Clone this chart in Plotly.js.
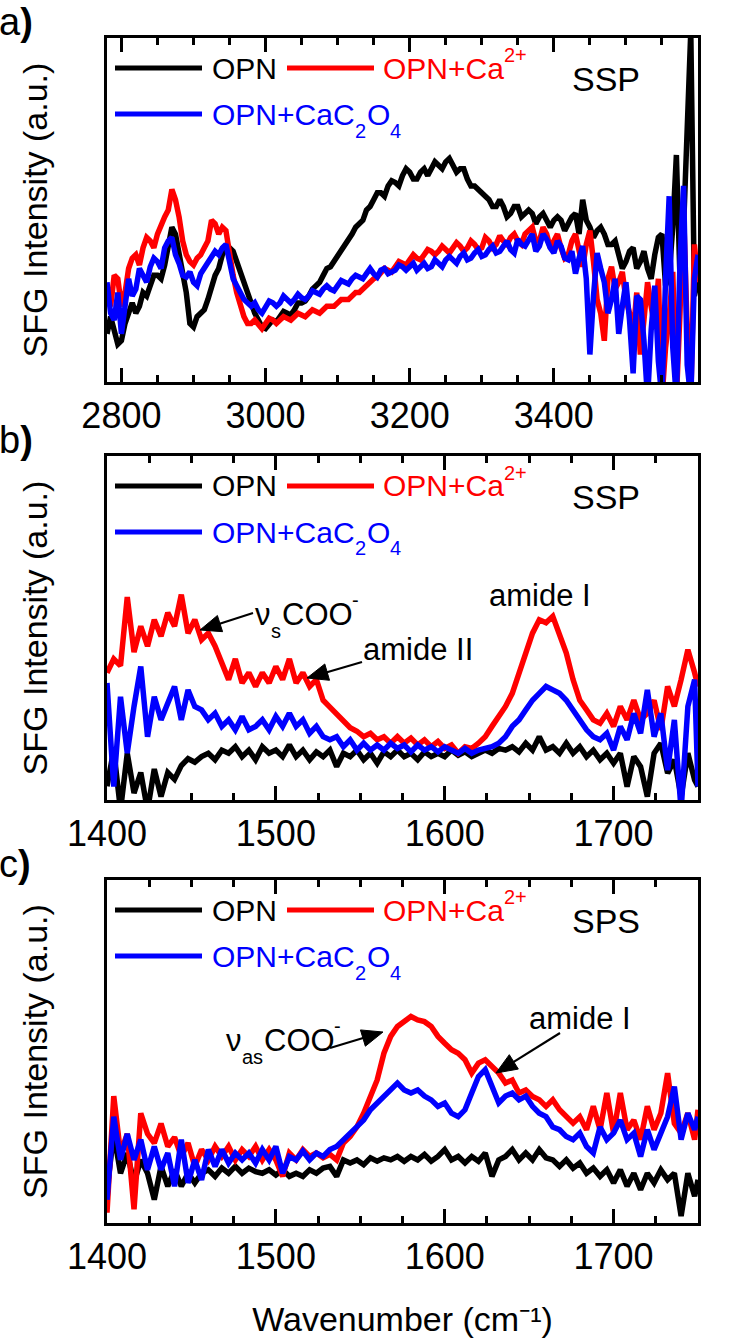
<!DOCTYPE html>
<html><head><meta charset="utf-8">
<script src="https://cdn.plot.ly/plotly-3.0.1.min.js"></script>
<style>html,body{margin:0;padding:0;background:#fff}</style>
</head><body><div id="chart" style="width:738px;height:1338px"></div>
<script>
// ---------- DATA (intensity in % of panel height) ----------
var aX = [2780,2785,2790,2795,2800,2805,2810,2815,2820,2825,2830,2835,2840,2845,2850,2855,2860,2865,2870,2875,2880,2885,2890,2895,2900,2905,2910,2915,2920,2925,2930,2935,2940,2945,2950,2955,2960,2965,2970,2975,2980,2985,2990,2995,3000,3005,3010,3015,3020,3025,3030,3035,3040,3045,3050,3055,3060,3065,3070,3075,3080,3085,3090,3095,3100,3105,3110,3115,3120,3125,3130,3135,3140,3145,3150,3155,3160,3165,3170,3175,3180,3185,3190,3195,3200,3205,3210,3215,3220,3225,3230,3235,3240,3245,3250,3255,3260,3265,3270,3275,3280,3285,3290,3295,3300,3305,3310,3315,3320,3325,3330,3335,3340,3345,3350,3355,3360,3365,3370,3375,3380,3385,3390,3395,3400,3405,3410,3415,3420,3425,3430,3435,3440,3445,3450,3455,3460,3465,3470,3475,3480,3485,3490,3495,3500,3505,3510,3515,3520,3525,3530,3535,3540,3545,3550,3555,3560,3565,3570,3575,3580,3585,3590,3595,3600];
var aOPN = [14,19,15,11,12,17,20,23,20,22,26,25,28,31,31,30,34,40,45,43,37,31,26,17,16,19,20,21,24,28,31,33,37,39,39,38,35,32,29,25,22,20,18,16,15.5,17,18,17.5,19,20.5,20,19.5,21,23,23,23.5,25,27,28,29,31,33,33.5,35,36.5,38,40,41,43,45,46,47,50,51,53,55,55,54,57,58.5,58,57,60,62,61,59,59,61,62,60,62,64,63,62,64,65,63,61,62,62,59,57,57,56,55,54,53,51,51,53,51,48,49,51,51,48,49,50,49,46,48,49,47,45,47,48,47,44,46,48,49,43,53,47,45,42,44,45,43,40,40,41,37,33,35,38,39,33,35,38,33,30,37,42,43,28,31,45,66,30,45,72,102,25,30];
var aCa = [28,22,31,30,22,26,33,36,37,34,39,42,41,39,43,46,48,50,56,53,48,41,37,35,34,36,37,39,41,47,46,43,45,44,37,31,26,22,19,17,17,18,16.5,15.5,17,18.5,18,17,18,19,18.5,18,19,20,19.5,19,20,21,20.5,20,21,22,22,22,23,24,24,24,25,26,26,27,28,29.5,30,30.5,31.5,33,32.5,32,33.5,35,34.5,34,35.5,37,36,35.5,37,38.5,38,37,38,39.5,38.5,37.5,39,40.5,39.5,38,39,41,40,38.5,39,42,41,39,40,42.5,41,40,42,43,41,40,43,44,45,41,41,45,43,39,41,43,39,36,37,41,43,38,33.5,40,44,35,24,20,12,30,33.5,27,29,32,24,20,14,26,8,18,29,22,16,30,-5,10,19,32,-5,20,50,15,-5,40,29];
var aCaOx = [29,20,18,26,14,22,30,25,27,33,31,29,33.5,36,35,33,39,41,42,37,34.5,31,30.5,32,29,28,31.5,33,34.5,36,38,37,39,40,34.5,30,28,26,24,23,22,23,21,20,22,23.5,23,22,23,25,24,23,24,25.5,24.5,24,25,26.5,26,25.5,27,28,27,26.5,28,29.5,29,28.5,30,31,30.5,30,31.5,33,31.5,30.5,32.5,33,31.5,32,32.5,34,33.5,32.5,33.5,34.5,32.5,33.5,34.5,33,33.5,35.5,34.5,33.5,35.5,36.5,35.5,34.5,36.5,37.5,35.5,36,37.5,38.5,36.5,37,38.5,39.5,37.5,38,39.5,41,38.5,37.5,41.5,40,39.5,41,43,38,39.5,43,41.5,39,37.5,41,39.5,36,35.5,38,31.5,36,39.5,30,8,25,37.5,33,29,20,24,30,14,22,29,18,2.5,25,24,12,-5,15,28,6,-5,30,54,10,-5,35,57,5,-5,30,37];

var bcX = [1400,1404,1408,1412,1416,1420,1424,1428,1432,1436,1440,1444,1448,1452,1456,1460,1464,1468,1472,1476,1480,1484,1488,1492,1496,1500,1504,1508,1512,1516,1520,1524,1528,1532,1536,1540,1544,1548,1552,1556,1560,1564,1568,1572,1576,1580,1584,1588,1592,1596,1600,1604,1608,1612,1616,1620,1624,1628,1632,1636,1640,1644,1648,1652,1656,1660,1664,1668,1672,1676,1680,1684,1688,1692,1696,1700,1704,1708,1712,1716,1720,1724,1728,1732,1736,1740,1744,1748,1750];

var bOPN = [4,14.5,-3,13.6,2,8,-3,9,1,8,6,10,12,11,12.6,13.6,11.7,14.5,13.6,15.5,12.6,14.5,11.7,15.5,13.6,14.5,12.6,16,12.6,14.5,11.7,14,12.6,14.5,9.7,13.6,12.6,14.5,11.7,13.6,10.7,14,12.6,14.5,12.6,13.6,11.7,14,12.6,13.6,12.6,14.5,13,14,12.6,13.6,14.5,13.6,15,14.5,15.5,14,16.5,14.5,18.4,14.5,15.5,13.6,16.5,13.6,15.5,12.6,14.5,11.7,13.6,10.7,13.6,3.9,12.6,9.7,1,13.6,16.5,7.8,11.7,1,13.6,5.8,3.9];
var bCa = [37,41,39,59,43,50.5,44.7,52.4,47.6,54.4,50.5,59.7,48.5,52.4,46.6,48.5,44.7,39.8,35,41,34,37,33,37,34,38.8,35,41,34,37,33,35,29,27,25,23,21,20,18.4,19.4,17.5,18.4,16.5,18.4,16.5,18,16,17.5,15.5,17,15,16,13.6,15.5,15,16.5,18.4,21.4,24.3,27.2,31,37,42.7,48.5,52.4,51.5,53.4,48.5,42.7,35,29,26.2,23.3,22.3,25.2,21.4,27.2,23.3,29,23.3,25.2,29,20.4,33,27.2,35,43.7,37,33];
var bCaOx = [34,3.9,30,13.6,27.2,38.8,18.4,30,23.3,28,33,23.3,32,27.2,26.2,23.3,25.2,21.4,23.3,20.4,24.3,20.4,21.4,23.3,20.4,24.3,21.4,25.2,21.4,23.3,19.4,21.4,18.4,17.5,18.4,15.5,17.5,14.5,16.5,14.5,16,14.5,16.5,15,16,14,16,14.5,15.5,14,15.5,14.5,13.6,15,13.6,14.5,15,15.5,16.5,18.4,21.4,23.3,26.2,29,31,33,32,31,29,26.2,23.3,20.4,18.4,17.5,19.4,14.5,21.4,17.5,25.2,19.4,32,18.4,25.2,8.7,23.3,-3,27.2,35,3.9];

var cOPN = [9.7,26,14.5,20.4,11.7,18.4,14.5,6.8,16.5,10.7,15.5,10.7,14.5,11.7,14.5,15.5,13.6,16,14.5,16.5,14.5,16,15,14.5,15.5,14,15.5,13.6,14.5,13.6,15.5,14.5,16,16.5,13.6,18.4,17.5,18.4,17,19,18,19,18.4,19.4,18,19.4,18.4,20,18,19.4,21.4,18.4,19.4,17.5,19.4,18,20.4,13.6,18.4,19.4,21.4,18.4,20.4,18.4,21.4,19,18.4,16.5,18.4,16,17.5,14.5,16,13.6,15.5,11.7,15.5,10.7,14.5,9.7,14.5,11.7,15.5,12.6,14.5,2,14.5,7.8,12.6];
var cCa = [3,37,20.4,26,4,32,26,23.3,29,22.3,25,19.4,23.3,16.5,21.4,18.4,22.3,19.4,22.3,18.4,21.4,19.4,22.3,18.4,21.4,18.4,13.6,20.4,18.4,21.4,19.4,20.4,19,20,18.4,23.3,25.2,28,32,37,41.7,49.5,54.4,57.3,58.7,60.2,59.2,58.7,57.3,54.4,52.4,50.5,49.5,47.6,43.7,46.6,47.6,45.6,43.7,40.8,41.7,37.9,38.8,36.9,35.9,34,35.9,33,31,29.1,31,27.2,34,27.2,37.9,26.2,37.9,27.2,30,24.3,34,27.2,32,43.7,29,26.2,32,24.3,33];
var cCaOx = [6.8,31,18.4,26,18.4,24.3,15.5,22.3,15.5,20.4,10.7,24.3,11.7,18.4,12.6,21.4,16.5,21.4,17.5,20.4,18.4,20.4,17.5,21.4,18.4,22.3,14.5,19.4,18.4,21,18.4,20.4,19.4,21.4,22.3,24.3,26.2,28,30,33,35,37,38.8,40.8,38.8,37.9,38.8,37,35.9,34,35,32,31,33,37.9,42.7,44.7,39.8,35,37,37.9,35.9,37,34,32,31,28,27.2,25.2,24.3,26.2,22.3,20.4,28,24.3,26.2,30,24.3,26.2,19.4,27.2,21.4,26.2,31,39.8,24.3,32,27.2,31];

// series labels as [text, role] pieces: role '' = normal, 'sup' = superscript, 'sub' = subscript
var seriesLabels = [
  [['OPN', '']],
  [['OPN+Ca', ''], ['2+', 'sup']],
  [['OPN+CaC', ''], ['2', 'sub'], ['O', ''], ['4', 'sub']]
];
var seriesNames = ['OPN', 'OPN+Ca2+', 'OPN+CaC2O4'];
var colors = ['#000000', '#ff0000', '#0000ff'];
var panelLetters = ['a', 'b', 'c'];
var polarizations = ['SSP', 'SSP', 'SPS'];
var aTicks = [2800, 3000, 3200, 3400, 3600];
var bcTicks = [1400, 1500, 1600, 1700];

// ---------- LAYOUT GEOMETRY (pixels) ----------
var W = 738, H = 1338, L = 107, R = 698;
var tops = [38, 456, 880], bots = [382, 800, 1223];
function px(x) { return (x - L) / (R - L); }
function py(y) { return 1 - y / H; }

var FONT = 'Liberation Sans, Arial, sans-serif';
var ctx = document.createElement('canvas').getContext('2d');
function textWidth(t, size) { ctx.font = size + 'px "Liberation Sans", Arial, sans-serif'; return ctx.measureText(t).width; }

var panelsData = [
  {x: aX, ys: [aOPN, aCa, aCaOx]},
  {x: bcX, ys: [bOPN, bCa, bCaOx]},
  {x: bcX, ys: [cOPN, cCa, cCaOx]}
];

var traces = [];
panelsData.forEach(function(p, i) {
  var sfx = i === 0 ? '' : String(i + 1);
  p.ys.forEach(function(y, k) {
    traces.push({x: p.x, y: y, type: 'scatter', mode: 'lines', name: seriesNames[k],
      xaxis: 'x' + sfx, yaxis: 'y' + sfx, line: {color: colors[k], width: 5.5}, hoverinfo: 'skip'});
  });
});

function xAxis(range, ticks, minorD, anchor) {
  return {range: range, anchor: anchor, tickmode: 'array', tickvals: ticks, ticktext: ticks.map(String),
    ticks: 'inside', ticklen: 14, tickwidth: 2.5, tickcolor: '#000', showline: true, linewidth: 2.5, linecolor: '#000',
    mirror: 'ticks', showgrid: false, zeroline: false, tickfont: {size: 36, family: FONT, color: '#000'},
    minor: {ticks: 'inside', ticklen: 7, tickwidth: 2.5, tickcolor: '#000', dtick: minorD, tick0: range[0] < 2000 ? 1400 : 2800, showgrid: false}};
}
function yAxis(i, anchor) {
  return {domain: [py(bots[i]), py(tops[i])], range: [0, 100], anchor: anchor, showline: true, linewidth: 2.5, linecolor: '#000',
    mirror: true, ticks: '', showticklabels: false, showgrid: false, zeroline: false,
    title: {text: 'SFG Intensity (a.u.)', font: {size: 34, family: FONT, color: '#000'}, standoff: 47}};
}

var layout = {
  width: W, height: H, margin: {l: L, r: W - R, t: 0, b: 0}, showlegend: false,
  paper_bgcolor: '#fff', plot_bgcolor: '#fff', font: {family: FONT, color: '#000'},
  xaxis: xAxis([2780, 3600], aTicks, 50, 'y'),
  xaxis2: xAxis([1400, 1750], bcTicks, 25, 'y2'),
  xaxis3: xAxis([1400, 1750], bcTicks, 25, 'y3'),
  yaxis: yAxis(0, 'x'), yaxis2: yAxis(1, 'x2'), yaxis3: yAxis(2, 'x3'),
  shapes: [], annotations: []
};
layout.xaxis3.title = {text: 'Wavenumber (cm\u207b\u00b9)', font: {size: 34, family: FONT, color: '#000'}, standoff: 33};

function txt(x, y, text, size, color, anchor) {
  layout.annotations.push({xref: 'paper', yref: 'paper', x: px(x), y: py(y), text: text, showarrow: false,
    xanchor: anchor || 'left', yanchor: 'middle', borderpad: 0, font: {size: size, family: FONT, color: color || '#000'}});
}
// text made of pieces; sub/superscripts are separate smaller texts placed beside the main text
function rich(x, y, pieces, size, color) {
  var small = Math.round(size * 0.66), cx = x;
  pieces.forEach(function(p) {
    var s = p[1] ? small : size;
    var dy = p[1] === 'sup' ? -size * 0.45 : (p[1] === 'sub' ? size * 0.55 : 0);
    txt(cx, y + dy, p[0], s, color);
    cx += textWidth(p[0], s) + (p[1] ? 1 : 0);
  });
}
function seg(x0, x1, y, color) {
  layout.shapes.push({type: 'line', xref: 'paper', yref: 'paper', x0: px(x0), x1: px(x1), y0: py(y), y1: py(y),
    line: {color: color, width: 5}});
}
// arrow drawn as a line plus a filled triangular head (pixel geometry converted to paper coords)
function arrow(tx, ty, hx, hy) {
  var dx = hx - tx, dy = hy - ty, len = Math.sqrt(dx * dx + dy * dy);
  var ux = dx / len, uy = dy / len, hl = 21, hw = 8.5;
  var bx = hx - ux * hl, by = hy - uy * hl;
  layout.shapes.push({type: 'line', xref: 'paper', yref: 'paper', x0: px(tx), y0: py(ty), x1: px(bx + ux * 2), y1: py(by + uy * 2),
    line: {color: '#000', width: 2.2}});
  var p1x = bx - uy * hw, p1y = by + ux * hw, p2x = bx + uy * hw, p2y = by - ux * hw;
  layout.shapes.push({type: 'path', xref: 'paper', yref: 'paper',
    path: 'M ' + px(hx) + ' ' + py(hy) + ' L ' + px(p1x) + ' ' + py(p1y) + ' L ' + px(p2x) + ' ' + py(p2y) + ' Z',
    fillcolor: '#000', line: {color: '#000', width: 1}});
}

[0, 1, 2].forEach(function(i) {
  var T = tops[i];
  seg(115, 202, T + 30, colors[0]); rich(211, T + 30, seriesLabels[0], 30, colors[0]);
  seg(287, 374, T + 30, colors[1]); rich(382, T + 30, seriesLabels[1], 30, colors[1]);
  seg(115, 202, T + 76, colors[2]); rich(211, T + 76, seriesLabels[2], 30, colors[2]);
  txt(606, T + 41, polarizations[i], 34, '#000', 'center');
  txt(-2, T - 16, panelLetters[i] + '<b>)</b>', 38, '#000');
});

// panel b annotations
txt(540, 595, 'amide I', 31, '#000', 'center');
txt(418, 650, 'amide II', 31, '#000', 'center');
arrow(362, 662, 307, 678);
rich(254, 614, [['\u03bd', ''], ['s', 'sub'], ['COO', ''], ['-', 'sup']], 31, '#000');
arrow(253, 613, 200, 630);
// panel c annotations
rich(225, 1040, [['\u03bd', ''], ['as', 'sub'], ['COO', ''], ['-', 'sup']], 31, '#000');
arrow(330, 1048, 383, 1032);
txt(580, 1018, 'amide I', 31, '#000', 'center');
arrow(560, 1033, 496, 1073);

Plotly.newPlot('chart', traces, layout, {displayModeBar: false});
</script></body></html>
